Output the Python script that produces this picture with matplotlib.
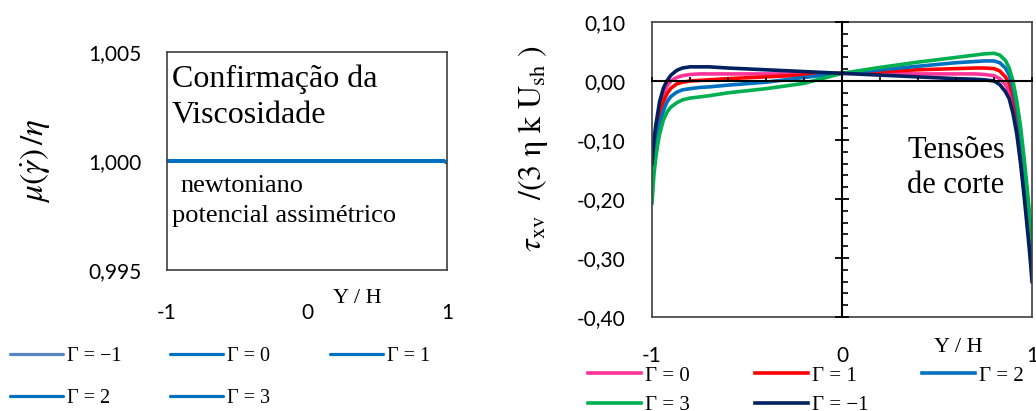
import numpy as np
import matplotlib
matplotlib.use("Agg")
import matplotlib.pyplot as plt
from matplotlib.ticker import MultipleLocator

plt.rcParams['mathtext.fontset'] = 'stix'

W, H = 1036, 411
SERIF = 'Liberation Serif'
SANS = 'Lato'

# viscosity ratio across the channel (newtonian: constant 1)
visc_y = [-1.0, -0.5, 0.0, 0.5, 0.98, 1.0]
visc = {
    -1: [1.0, 1.0, 1.0, 1.0, 1.0, 0.99992],
    0: [1.0, 1.0, 1.0, 1.0, 1.0, 0.99992],
    1: [1.0, 1.0, 1.0, 1.0, 1.0, 0.99992],
    2: [1.0, 1.0, 1.0, 1.0, 1.0, 0.99992],
    3: [1.0, 1.0, 1.0, 1.0, 1.0, 0.99992],
}
visc_colors = {-1: '#5685c4', 0: '#0070c0', 1: '#0070c0', 2: '#0070c0', 3: '#0070c0'}

# shear stress profiles
tau_y = [-1.00, -0.99, -0.98, -0.97, -0.96, -0.94, -0.92, -0.90, -0.87, -0.84,
         -0.80, -0.75, -0.70, -0.60, -0.40, -0.20, 0.00, 0.20, 0.40, 0.60,
         0.70, 0.75, 0.80, 0.83, 0.86, 0.88, 0.90, 0.92, 0.94, 0.96,
         0.98, 0.99, 1.00]
tau_m1 = [-0.140, -0.100, -0.075, -0.055, -0.035, -0.012, 0.001, 0.010, 0.018, 0.022,
          0.024, 0.024, 0.024, 0.022, 0.019, 0.016, 0.013, 0.010, 0.007, 0.004,
          0.003, 0.002, 0.000, -0.006, -0.018, -0.030, -0.055, -0.090, -0.140, -0.200,
          -0.265, -0.300, -0.340]
tau_0 = [-0.150, -0.110, -0.083, -0.062, -0.045, -0.022, -0.008, 0.000, 0.006, 0.009,
         0.011, 0.012, 0.012, 0.012, 0.012, 0.012, 0.013, 0.013, 0.012, 0.012,
         0.012, 0.011, 0.009, 0.004, -0.006, -0.018, -0.040, -0.072, -0.118, -0.175,
         -0.240, -0.280, -0.320]
tau_1 = [-0.160, -0.122, -0.096, -0.076, -0.058, -0.035, -0.021, -0.012, -0.005, -0.002,
         0.000, 0.001, 0.002, 0.004, 0.007, 0.010, 0.013, 0.016, 0.019, 0.021,
         0.022, 0.022, 0.021, 0.017, 0.007, -0.004, -0.025, -0.058, -0.102, -0.160,
         -0.225, -0.262, -0.300]
tau_2 = [-0.180, -0.140, -0.112, -0.091, -0.073, -0.050, -0.035, -0.026, -0.019, -0.015,
         -0.013, -0.011, -0.010, -0.007, -0.002, 0.006, 0.013, 0.019, 0.025, 0.031,
         0.033, 0.034, 0.034, 0.031, 0.022, 0.010, -0.012, -0.045, -0.090, -0.147,
         -0.210, -0.248, -0.290]
tau_3 = [-0.207, -0.160, -0.130, -0.108, -0.090, -0.066, -0.052, -0.044, -0.037, -0.032,
         -0.029, -0.027, -0.025, -0.020, -0.013, -0.004, 0.013, 0.023, 0.032, 0.040,
         0.044, 0.046, 0.047, 0.044, 0.035, 0.022, 0.000, -0.034, -0.078, -0.135,
         -0.200, -0.237, -0.275]
tau_series = [(0, tau_0, '#ff3399'), (1, tau_1, '#ff0000'), (2, tau_2, '#0070c0'),
              (3, tau_3, '#00b050'), (-1, tau_m1, '#002060')]

left_yticks = [0.995, 1.000, 1.005]
left_ylabels = ['0,995', '1,000', '1,005']
right_yticks = [0.10, 0.00, -0.10, -0.20, -0.30, -0.40]
right_ylabels = ['0,10', '0,00', '-0,10', '-0,20', '-0,30', '-0,40']
xticks = [-1, 0, 1]
xlabels = ['-1', '0', '1']


def gamma_label(g):
    return 'Γ = −1' if g < 0 else f'Γ = {g}'


def rect(x0, y0, x1, y1):
    return [x0 / W, 1 - y1 / H, (x1 - x0) / W, (y1 - y0) / H]


def serif_text(x, y, s, size, **kw):
    fig.text(x / W, 1 - y / H, s, family=SERIF, fontsize=size, **kw)


fig = plt.figure(figsize=(W / 100, H / 100), dpi=100)
frame_c = '#404040'

# ---- left panel: viscosity ----
axl = fig.add_axes(rect(167, 52, 447, 270))
visc_lines = {}
for g in [-1, 0, 1, 2, 3]:
    ln, = axl.plot(visc_y, visc[g], color=visc_colors[g], lw=2.3,
                   solid_capstyle='round')
    visc_lines[g] = ln
axl.set_xlim(-1, 1)
axl.set_ylim(0.995, 1.005)
axl.set_yticks(left_yticks)
axl.set_yticklabels(left_ylabels)
axl.set_xticks(xticks)
axl.set_xticklabels(xlabels)
axl.tick_params(axis='y', length=0, pad=18, labelsize=15)
axl.tick_params(axis='x', length=0, pad=24, labelsize=15)
for lab in axl.get_xticklabels() + axl.get_yticklabels():
    lab.set_fontfamily(SANS)
for sp in axl.spines.values():
    sp.set_color(frame_c)
    sp.set_linewidth(1.2)
axl.set_ylabel(r'$\mu(\dot{\gamma})\,/\eta$', fontsize=24)
axl.yaxis.set_label_coords((52 - 167) / 280, 0.5)

serif_text(172, 87, 'Confirmação da', 23, va='baseline')
serif_text(172, 123, 'Viscosidade', 23, va='baseline')
serif_text(180, 192, 'newtoniano', 19, va='baseline')
serif_text(172, 222, 'potencial assimétrico', 19, va='baseline')
serif_text(357, 298, 'Y / H', 16, ha='center', va='center')

# ---- right panel: shear stress ----
axr = fig.add_axes(rect(652, 22, 1032, 317))
tau_lines = {}
for g, vals, c in tau_series:
    ln, = axr.plot(tau_y, vals, color=c, lw=2.6)
    tau_lines[g] = ln
axr.set_xlim(-1, 1)
axr.set_ylim(-0.40, 0.10)
axr.set_yticks(right_yticks)
axr.set_yticklabels(right_ylabels)
axr.set_xticks(xticks)
axr.set_xticklabels(xlabels)
axr.tick_params(axis='y', length=0, pad=19, labelsize=15)
axr.tick_params(axis='x', length=0, pad=21, labelsize=15)
for lab in axr.get_xticklabels() + axr.get_yticklabels():
    lab.set_fontfamily(SANS)
for sp in axr.spines.values():
    sp.set_color(frame_c)
    sp.set_linewidth(1.2)
axr.set_ylabel(r'$\tau_{\mathrm{xv}}\ \ /(3\ \mathrm{η}\ \mathrm{k}\ \mathrm{U}_{\mathrm{sh}}\ )$',
               fontsize=23)
axr.yaxis.set_label_coords((550 - 652) / 380, (317 - 148) / 295)

# axes crossing at the origin
axc = fig.add_axes(axr.get_position())
axc.set_xlim(axr.get_xlim())
axc.set_ylim(axr.get_ylim())
axc.patch.set_visible(False)
axc.spines['left'].set_position(('data', 0))
axc.spines['bottom'].set_position(('data', 0))
axc.spines['top'].set_visible(False)
axc.spines['right'].set_visible(False)
for side in ['left', 'bottom']:
    axc.spines[side].set_color('black')
    axc.spines[side].set_linewidth(1.5)
axc.yaxis.set_major_locator(MultipleLocator(0.1))
axc.yaxis.set_minor_locator(MultipleLocator(0.02))
axc.xaxis.set_major_locator(MultipleLocator(0.2))
axc.tick_params(axis='y', which='major', direction='inout', length=9.5, width=1.3,
                labelleft=False)
axc.tick_params(axis='y', which='minor', direction='in', length=4, width=1.2)
axc.tick_params(axis='x', which='major', direction='in', length=3, width=1.2,
                labelbottom=False)

serif_text(907, 158, 'Tensões', 22, va='baseline')
serif_text(907, 193, 'de corte', 22, va='baseline')
serif_text(958, 347, 'Y / H', 16, ha='center', va='center')

# ---- legends, one entry each ----
def legend_entry(handle, label, x, y, size):
    hl = 53 / (size * 100 / 72)
    fig.legend([handle], [label], loc='center left', bbox_to_anchor=(x / W, 1 - y / H),
               frameon=False, borderpad=0, borderaxespad=0, handlelength=hl,
               handletextpad=0.2, prop={'family': SERIF, 'size': size})

left_cols = [10, 170, 330]
left_rows = [356, 398]
left_order = [-1, 0, 1, 2, 3]
for i, g in enumerate(left_order):
    legend_entry(visc_lines[g], gamma_label(g), left_cols[i % 3], left_rows[i // 3], 14.5)

right_cols = [588, 755, 922]
right_rows = [376, 405]
right_order = [0, 1, 2, 3, -1]
for i, g in enumerate(right_order):
    legend_entry(tau_lines[g], gamma_label(g), right_cols[i % 3], right_rows[i // 3], 15)

fig.savefig('out.png', dpi=100)
